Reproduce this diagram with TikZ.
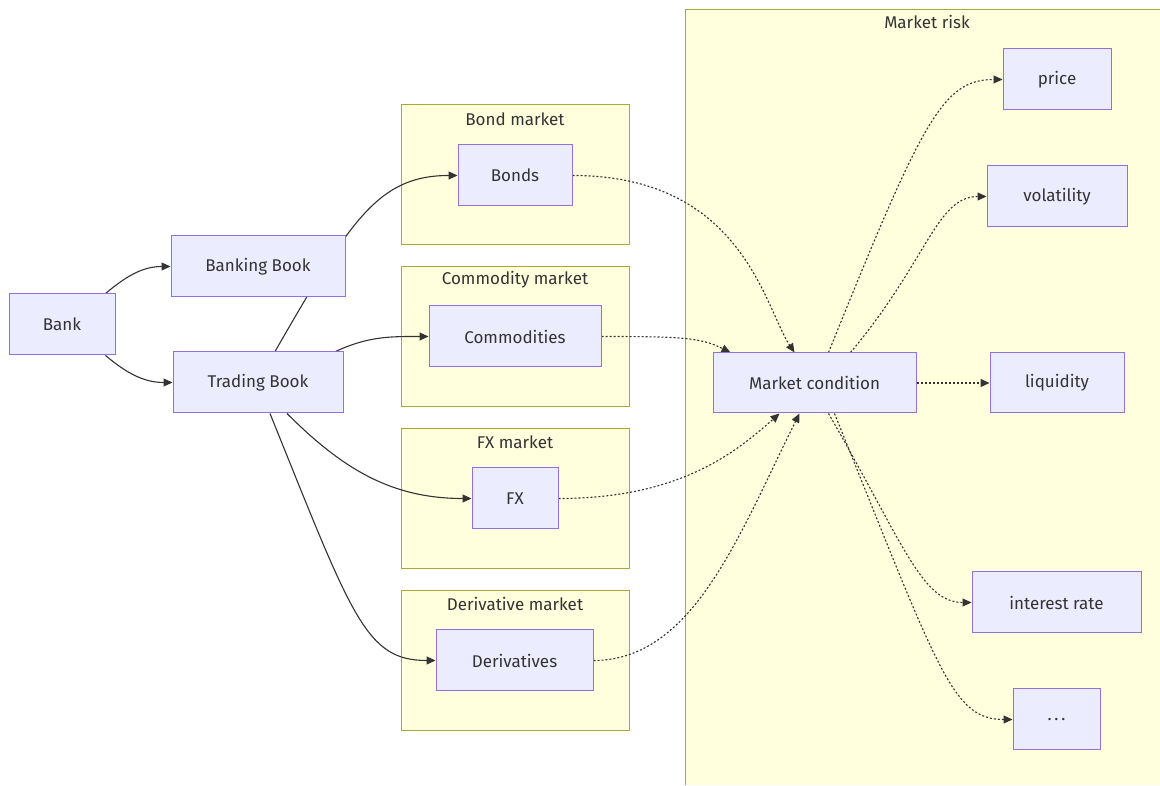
\documentclass[tikz,border=0pt]{standalone}
\usepackage{fontspec}
\setmainfont{Fira Sans}
\usepackage{tikz}
\usetikzlibrary{arrows.meta}
\usetikzlibrary{calc}

\definecolor{boxfill}{HTML}{ECECFF}
\definecolor{boxline}{HTML}{9370DB}
\definecolor{grpfill}{HTML}{FFFFDE}
\definecolor{grpline}{HTML}{AAAA33}
\definecolor{ink}{HTML}{333333}

\pgfdeclarelayer{bg}
\pgfdeclarelayer{edges}
\pgfsetlayers{bg,edges,main}

\tikzset{
  box/.style={draw=boxline,fill=boxfill,line width=1pt,minimum height=61pt,inner sep=0pt,text=ink},
  grp/.style={draw=grpline,fill=grpfill,line width=1pt,minimum width=228pt,minimum height=140pt,inner sep=0pt},
  grplabel/.style={text=ink,inner sep=0pt},
  link/.style={draw=ink,line width=1.1pt,-{Triangle[length=9pt,width=8pt]}},
  dlink/.style={link,dash pattern=on 2pt off 2pt}
}

\begin{document}
\begin{tikzpicture}[x=1pt,y=1pt,font=\fontsize{17}{20}\selectfont]
                    \useasboundingbox (0,0) rectangle (1160,785);
                    % groups
                    \begin{pgfonlayer}{bg}
                    \node[grp] (bondm) at (515,610) {};
                    \node[grp] (commm) at (515,448) {};
                    \node[grp] (fxm) at (515,286) {};
                    \node[grp] (derivm) at (515,124.5) {};
                    \fill[grpfill] (685,0) rectangle (1160,775);
                    \draw[grpline,line width=1pt] (1160,775) -| (685,0);
                    \node[grplabel] (bondl) at (515,666) {Bond market};
                    \node[grplabel] (comml) at (515,505) {Commodity market};
                    \node[grplabel] (fxl) at (515,343) {FX market};
                    \node[grplabel] (derivl) at (515,181) {Derivative market};
                    \node[grplabel] (riskl) at (927,763) {Market risk};
                    \end{pgfonlayer}
                    % nodes
                    \node[box,minimum width=106pt] (bank) at (62,460.5) {Bank};
                    \node[box,minimum width=174pt] (bbook) at (258,518.5) {Banking Book};
                    \node[box,minimum width=170pt] (tbook) at (258,402.5) {Trading Book};
                    \node[box,minimum width=114pt] (bonds) at (515,609.5) {Bonds};
                    \node[box,minimum width=172pt] (comm) at (515,448.5) {Commodities};
                    \node[box,minimum width=86pt] (fx) at (515,286.5) {FX};
                    \node[box,minimum width=157pt] (deriv) at (514.5,124.5) {Derivatives};
                    \node[box,minimum width=203pt,minimum height=60pt] (mc) at (814.5,402) {Market condition};
                    \node[box,minimum width=108pt] (price) at (1057,705.5) {price};
                    \node[box,minimum width=140pt] (vol) at (1057,588.5) {volatility};
                    \node[box,minimum width=134pt,minimum height=60pt] (liq) at (1057,402) {liquidity};
                    \node[box,minimum width=169pt] (ir) at (1056.5,182.5) {interest rate};
                    \node[box,minimum width=87pt] (etc) at (1056.5,65.5) {.\,.\,.};
                    % connectors
                    \begin{pgfonlayer}{edges}
                    \draw[link] ([xshift=-10pt]bank.north east) to[out=40,in=180] (bbook.west);
                    \draw[link] ([xshift=-10pt]bank.south east) to[out=-40,in=180] (tbook.west);
                    \draw[link] ([xshift=17pt]tbook.north) .. controls +(60:150) and +(-80,0) .. (bonds.west);
                    \draw[link] ([xshift=-8pt]tbook.north east) to[out=25,in=180] (comm.west);
                    \draw[link] ([xshift=29pt]tbook.south) to[out=-45,in=180] (fx.west);
                    \draw[link] ([xshift=12pt]tbook.south) .. controls +(-68:220) and +(-70,0) .. (deriv.west);
                    \draw[dlink] (bonds.east) .. controls +(170,0) and +(-30,45) .. ([xshift=-20pt]mc.north);
                    \draw[dlink] (comm.east) .. controls +(80,0) and +(-30,15) .. ([xshift=-84pt]mc.north);
                    \draw[dlink] (fx.east) .. controls +(120,0) and +(-45,-40) .. ([xshift=-35pt]mc.south);
                    \draw[dlink] (deriv.east) .. controls +(100,0) and +(-60,-120) .. ([xshift=-15pt]mc.south);
                    \draw[dlink] ([xshift=14pt]mc.north) .. controls +(68:250) and +(-60,0) .. (price.west);
                    \draw[dlink] ([xshift=36pt]mc.north) .. controls +(50:120) and +(-50,0) .. (vol.west);
                    \draw[dlink] (mc.east) -- (liq.west);
                    \draw[dlink] ([xshift=14pt]mc.south) .. controls +(-60:150) and +(-50,0) .. (ir.west);
                    \draw[dlink] ([xshift=20pt]mc.south) .. controls +(-68:280) and +(-60,0) .. (etc.west);
                    \end{pgfonlayer}
                \end{tikzpicture}
\end{document}
